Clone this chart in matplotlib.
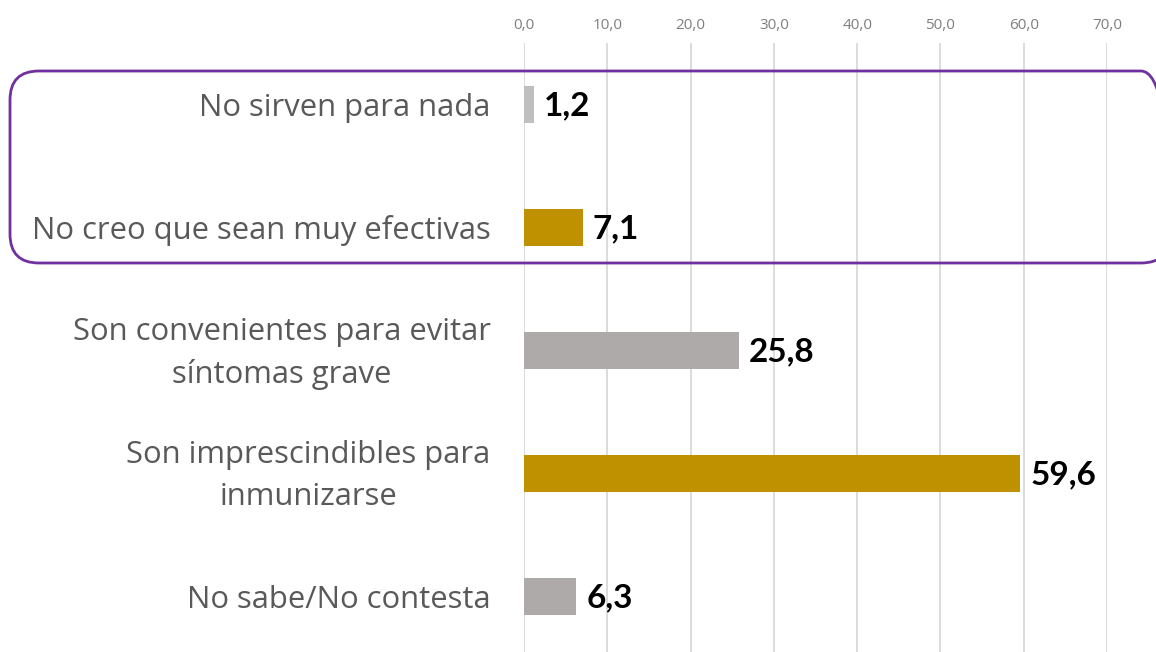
import matplotlib
matplotlib.use("Agg")
import matplotlib.pyplot as plt
from matplotlib.patches import FancyBboxPatch
from matplotlib.transforms import ScaledTranslation

categories = ["No sirven para nada",
              "No creo que sean muy efectivas",
              "Son convenientes para evitar\nsíntomas grave",
              "Son imprescindibles para\ninmunizarse",
              "No sabe/No contesta"]
values = [1.2, 7.1, 25.8, 59.6, 6.3]
value_labels = ["1,2", "7,1", "25,8", "59,6", "6,3"]
ticks = [0, 10, 20, 30, 40, 50, 60, 70]
tick_labels = ["0,0", "10,0", "20,0", "30,0", "40,0", "50,0", "60,0", "70,0"]
colors = ["#BFBFBF", "#BF9000", "#AEAAAA", "#BF9000", "#AEAAAA"]

W, H = 1156, 652
fig = plt.figure(figsize=(W / 100, H / 100), dpi=100)
fig.patch.set_facecolor("white")

# axes: x 524..1107, y 43..658 (pixels from top)
left, right = 524, 1107
top, bottom = 43, 658
ax = fig.add_axes([left / W, (H - bottom) / H, (right - left) / W, (bottom - top) / H])
ax.set_xlim(0, 70)
ax.set_ylim(len(categories) - 0.5, -0.5)

ypos = list(range(len(categories)))
ax.barh(ypos, values, height=0.3, color=colors, zorder=3)

for y, v, lab in zip(ypos, values, value_labels):
    ax.annotate(lab, (v, y), xytext=(7, -1), textcoords="offset points",
                ha="left", va="center", fontsize=24, fontweight="bold",
                family="Lato", color="black", zorder=4)

ax.set_yticks(ypos)
ax.set_yticklabels(categories, fontsize=22.3, family="Open Sans", color="#595959",
                   multialignment="center", linespacing=1.52)
ax.tick_params(axis="y", length=0, pad=24)
for lbl in ax.get_yticklabels():
    if "\n" in lbl.get_text():
        lbl.set_transform(lbl.get_transform() + ScaledTranslation(0, 5 / 72, fig.dpi_scale_trans))

ax.xaxis.tick_top()
ax.set_xticks(ticks)
ax.set_xticklabels(tick_labels, fontsize=11, family="Open Sans", color="#7F7F7F")
ax.tick_params(axis="x", length=0, pad=7.5)

ax.grid(axis="x", color="#D9D9D9", linewidth=1.3, zorder=0)
for s in ax.spines.values():
    s.set_visible(False)

# purple rounded box (figure pixel coords)
bx0, bx1, by_top, by_bot = 10, 1170, 71, 263
box = FancyBboxPatch((bx0 / W, (H - by_bot) / H), (bx1 - bx0) / W, (by_bot - by_top) / H,
                     boxstyle="round,pad=0,rounding_size=0.025",
                     transform=fig.transFigure, fill=False,
                     edgecolor="#7030A0", linewidth=2.0, zorder=10,
                     mutation_aspect=W / H)
fig.patches.append(box)

fig.savefig("out.png", dpi=100)
